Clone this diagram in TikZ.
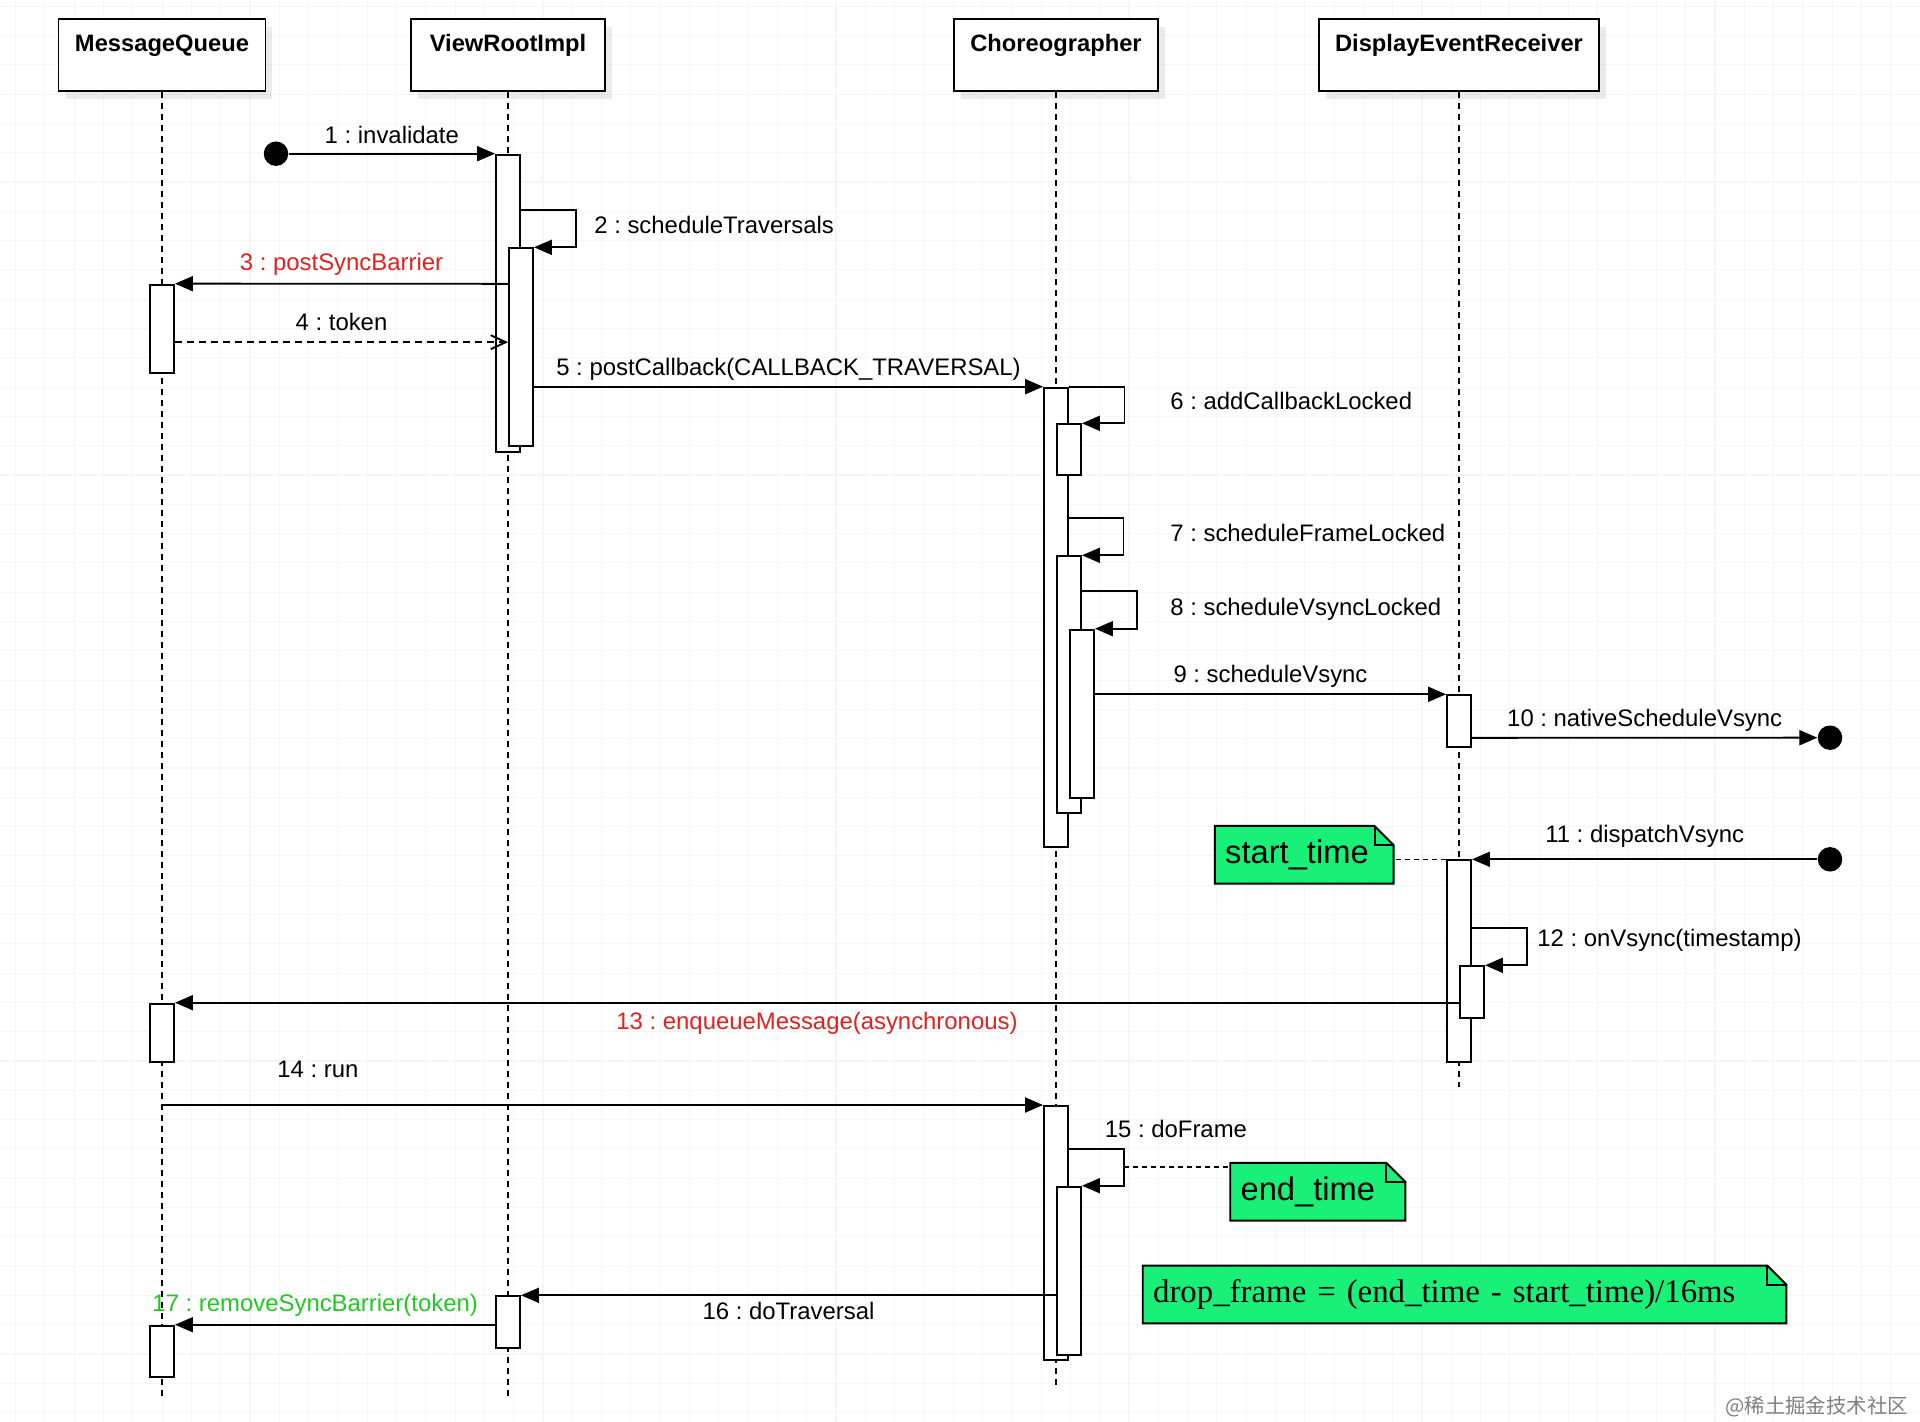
\documentclass[tikz,border=0pt]{standalone}
\usepackage{fontspec}
\setmainfont{Liberation Sans}
\newfontfamily\serifnote{Liberation Serif}
\newfontfamily\cjkmark{Noto Sans CJK SC}
\usepackage{xcolor}
\usetikzlibrary{positioning,arrows.meta,shadows,backgrounds}
\definecolor{msgred}{RGB}{226,32,32}
\definecolor{msggreen}{RGB}{34,200,34}
\definecolor{notegreen}{RGB}{24,240,120}
\frenchspacing

\begin{document}
\begin{tikzpicture}[x=0.02cm, y=-0.02cm, font=\fontsize{13.6}{16}\selectfont,
	obj/.style={draw, fill=white, line width=1.1pt, inner ysep=0pt, text height=0.66cm, text depth=0.78cm, font=\fontsize{13.5}{16}\selectfont\bfseries, drop shadow={shadow xshift=0.14cm, shadow yshift=-0.16cm, fill=black, opacity=0.08}},
	life/.style={line width=0.8pt, dash pattern=on 0.12cm off 0.1cm},
	act/.style={draw, fill=white, line width=1.1pt, minimum width=0.48cm, inner sep=0pt, anchor=north},
	msg/.style={line width=1.1pt, -{Triangle[length=0.36cm, width=0.3cm]}},
	ret/.style={line width=1.1pt, dash pattern=on 0.14cm off 0.1cm, -{Straight Barb[length=0.3cm, width=0.28cm]}},
	dot/.style={circle, fill, inner sep=0pt, minimum size=0.49cm},
	lbl/.style={anchor=base west, inner sep=0pt},
	note/.style={minimum height=1.14cm, inner xsep=0.2cm, align=left, font=\fontsize{18.6}{22}\selectfont},
	link/.style={line width=0.8pt, dash pattern=on 0.1cm off 0.08cm},
	gridline/.style={line width=0.6pt, black!4}]
	\useasboundingbox (0,0) rectangle (1920,1422);
	\begin{scope}[on background layer]
		\fill[white] (0,0) rectangle (1920,1422);
		\foreach \i in {0,...,65} \draw[gridline] ({15.6+29.3*\i},0) -- ({15.6+29.3*\i},1422);
		\foreach \j in {0,...,48} \draw[gridline] (0,{6.2+29.3*\j}) -- (1920,{6.2+29.3*\j});
	\end{scope}
	% participants and lifelines
	\node[obj, minimum width=4.14cm] (mq) at (162,55) {MessageQueue};
	\node[obj, minimum width=3.88cm] (vri) at (508,55) {ViewRootImpl};
	\node[obj, minimum width=4.08cm] (cho) at (1056,55) {Choreographer};
	\node[obj, minimum width=5.6cm] (der) at (1459,55) {DisplayEventReceiver};
	\coordinate (endA) at (0,1397);
	\coordinate (endB) at (0,1385);
	\coordinate (endC) at (0,1087);
	\draw[life] (mq.south) -- (mq.south |- endA);
	\draw[life] (vri.south) -- (vri.south |- endA);
	\draw[life] (cho.south) -- (cho.south |- endB);
	\draw[life] (der.south) -- (der.south |- endC);
	% activations
	\node[act, minimum height=5.95cm] (vri1) at (508,153.7) {};
	\node[act, minimum height=3.95cm] (vri2) at (521,247.3) {};
	\node[act, minimum height=1.76cm] (mq1) at (162,283.7) {};
	\node[act, minimum height=9.19cm] (cho1) at (1056,386.7) {};
	\node[act, minimum height=1.01cm] (cho2) at (1069,423.3) {};
	\node[act, minimum height=5.13cm] (cho3) at (1069,555.3) {};
	\node[act, minimum height=3.36cm] (cho4) at (1082,628.7) {};
	\node[act, minimum height=1.03cm] (der1) at (1459,694.3) {};
	\node[act, minimum height=4.03cm] (der2) at (1459,859.3) {};
	\node[act, minimum height=1.03cm] (der3) at (1472,965.3) {};
	\node[act, minimum height=1.17cm] (mq2) at (162,1002.7) {};
	\node[act, minimum height=5.09cm] (cho5) at (1056,1105) {};
	\node[act, minimum height=3.37cm] (cho6) at (1069,1185.7) {};
	\node[act, minimum height=1.03cm] (vri3) at (508,1295.3) {};
	\node[act, minimum height=1.03cm] (mq3) at (162,1324.7) {};
	% messages
	\node[dot] (d1) at (276,153.7) {};
	\node[dot] (d2) at (1830,737.7) {};
	\node[dot] (d3) at (1830,859.3) {};
	\draw[msg] (d1) -- (vri1.north west) node[midway, anchor=base, yshift=0.21cm] (l1) {1 : invalidate};
	\draw[msg] ([yshift=-1.13cm]vri1.north east) -- ++(1.11cm,0) |- (vri2.north east);
	\node[lbl] (l2) at (594,233.3) {2 : scheduleTraversals};
	\draw[msg] ([yshift=-0.73cm]vri2.north west) -- (mq1.north east) node[midway, anchor=base, yshift=0.26cm, text=msgred] (l3) {3 : postSyncBarrier};
	\coordinate (t4) at ([yshift=-1.17cm]mq1.north east);
	\draw[ret] (t4) -- (t4 -| vri2.west) node[midway, anchor=base, yshift=0.23cm] (l4) {4 : token};
	\draw[msg] (cho1.north west -| vri2.east) -- (cho1.north west) node[midway, anchor=base, yshift=0.23cm] (l5) {5 : postCallback(CALLBACK\_TRAVERSAL)};
	\draw[msg] (cho1.north east) -- ++(1.11cm,0) |- (cho2.north east);
	\node[lbl] (l6) at (1170,409.3) {6 : addCallbackLocked};
	\draw[msg] ([yshift=-2.63cm]cho1.north east) -- ++(1.09cm,0) |- (cho3.north east);
	\node[lbl] (l7) at (1170,541.7) {7 : scheduleFrameLocked};
	\draw[msg] ([yshift=-0.72cm]cho3.north east) -- ++(1.1cm,0) |- (cho4.north east);
	\node[lbl] (l8) at (1170,615) {8 : scheduleVsyncLocked};
	\draw[msg] (der1.north west -| cho4.east) -- (der1.north west) node[midway, anchor=base, yshift=0.23cm] (l9) {9 : scheduleVsync};
	\coordinate (c10) at ([yshift=-0.87cm]der1.north east);
	\draw[msg] (c10) -- (d2) node[midway, anchor=base, yshift=0.22cm] (l10) {10 : nativeScheduleVsync};
	\draw[msg] (d3) -- (der2.north east) node[midway, anchor=base, yshift=0.33cm] (l11) {11 : dispatchVsync};
	\node[note, left=1.05cm of der2.north west, yshift=0.09cm, text width=3.16cm] (st) {start\_time};
	\draw[link] (der2.north west) -- (der2.north west -| st.east);
	\draw[msg] ([yshift=-1.38cm]der2.north east) -- ++(1.1cm,0) |- (der3.north east);
	\node[lbl] (l12) at (1537,946.7) {12 : onVsync(timestamp)};
	\draw[msg] (mq2.north east -| der3.west) -- (mq2.north east) node[midway, anchor=base, yshift=-0.53cm, text=msgred] (l13) {13 : enqueueMessage(asynchronous)};
	\draw[msg] (cho5.north west -| mq.south) -- (cho5.north west) node[pos=0.177, anchor=base, yshift=0.56cm] (l14) {14 : run};
	\draw[msg] ([yshift=-0.88cm]cho5.north east) -- ++(1.1cm,0) coordinate (k15) |- (cho6.north east);
	\node[lbl] (l15) at (1104.5,1137.3) {15 : doFrame};
	\node[note, text width=3.09cm] (et) at (1317.8,1191.7) {end\_time};
	\coordinate (e15) at ([yshift=-0.36cm]k15);
	\draw[link] (e15) -- (e15 -| et.west);
	\node[note, text width=12.46cm, font=\serifnote\fontsize{18.7}{22}\selectfont] (df) at (1464.5,1294.5) {drop\_frame = (end\_time - start\_time)/16ms};
	\draw[msg] (vri3.north east -| cho6.west) -- (vri3.north east) node[midway, anchor=base, yshift=-0.48cm] (l16) {16 : doTraversal};
	\draw[msg] (mq3.north east -| vri3.west) -- (mq3.north east) node[pos=0.562, anchor=base, yshift=0.26cm, text=msggreen] (l17) {17 : removeSyncBarrier(token)};
	% note shapes
	\begin{scope}[on background layer]
		\foreach \n in {st,et,df} {
			\filldraw[fill=notegreen, line width=1.1pt] (\n.north west) -- ([xshift=-0.38cm]\n.north east) -- ([yshift=-0.38cm]\n.north east) -- (\n.south east) -- (\n.south west) -- cycle;
			\draw[line width=1.1pt] ([xshift=-0.38cm]\n.north east) |- ([yshift=-0.38cm]\n.north east);
		}
	\end{scope}
	\node[anchor=base east, text=black!50, font=\cjkmark\fontsize{11.6}{13}\selectfont] (wm) at (1914,1413) {@稀土掘金技术社区};
\end{tikzpicture}
\end{document}
